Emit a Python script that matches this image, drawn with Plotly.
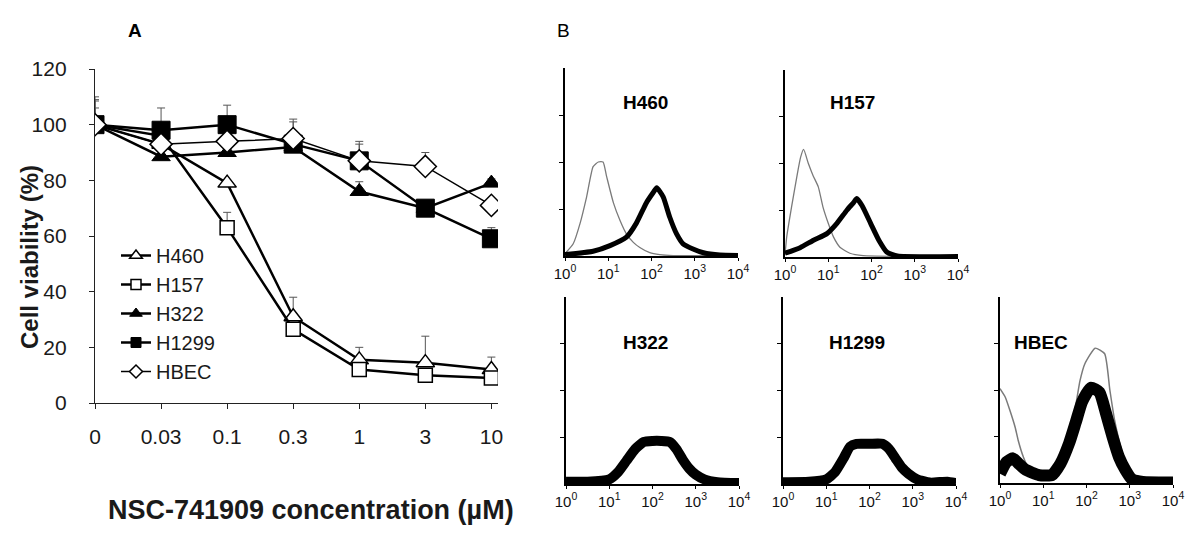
import plotly.graph_objects as go

# ---------------- Panel A data ----------------
conc_labels = ["0", "0.03", "0.1", "0.3", "1", "3", "10"]
h460 = [100, 93, 79, 31, 15.5, 14.5, 12]
h157 = [100, 96, 63, 26.5, 12, 10, 9]
h322 = [100, 88.5, 90, 92, 76, 70, 79]
h1299 = [100, 98, 100, 93, 87, 70, 59]
hbec = [100, 93, 94, 95, 87, 85, 71]

err460 = [10, None, None, 7, 4.5, 9.5, 4.5]
err157 = [8.5, None, 5.5, None, None, None, None]
err322 = [None, None, None, None, 3.5, None, 1.5]
err1299 = [6, 8, 7, 9, 6, None, 4]
errhbec = [9, None, None, 6, 7, 5, None]

y_ticks_a = [0, 20, 40, 60, 80, 100, 120]

# ---------------- Panel B data (log10 intensity, relative count) ----------------
hist_tick_vals = [1, 10, 100, 1000, 10000]
hist_tick_text = ["10<sup>0</sup>", "10<sup>1</sup>", "10<sup>2</sup>", "10<sup>3</sup>", "10<sup>4</sup>"]

h460_gray_logx = [0, 0.19, 0.35, 0.5, 0.65, 0.77, 0.88, 0.96, 1.12, 1.27, 1.42, 1.58, 1.73, 1.96, 2.19, 2.5, 4.0]
h460_gray_y = [0.05, 0.26, 0.7, 1.26, 1.9, 2.0, 2.0, 1.7, 1.13, 0.76, 0.47, 0.29, 0.18, 0.07, 0.03, 0.01, 0.01]
h460_black_logx = [0, 0.65, 1.04, 1.42, 1.65, 1.88, 2.04, 2.12, 2.27, 2.42, 2.58, 2.73, 2.96, 3.2, 3.58, 4.0]
h460_black_y = [0.03, 0.1, 0.22, 0.4, 0.7, 1.13, 1.35, 1.45, 1.26, 0.83, 0.47, 0.26, 0.15, 0.07, 0.02, 0.01]

h157_gray_logx = [0, 0.04, 0.15, 0.27, 0.36, 0.43, 0.54, 0.65, 0.77, 0.88, 1.0, 1.12, 1.27, 1.5, 1.81, 4.0]
h157_gray_y = [0.05, 0.43, 1.06, 1.7, 2.13, 2.3, 2.0, 1.74, 1.5, 1.06, 0.72, 0.43, 0.21, 0.08, 0.03, 0.01]
h157_black_logx = [0, 0.35, 0.66, 0.97, 1.2, 1.43, 1.59, 1.66, 1.78, 1.98, 2.17, 2.36, 2.6, 4.0]
h157_black_y = [0.08, 0.2, 0.36, 0.5, 0.72, 1.0, 1.17, 1.25, 1.1, 0.72, 0.36, 0.1, 0.02, 0.01]

h322_black_logx = [0, 0.5, 1.0, 1.2, 1.4, 1.6, 1.8, 2.0, 2.2, 2.4, 2.55, 2.7, 2.85, 3.0, 3.2, 3.5, 4.0]
h322_black_y = [0.05, 0.05, 0.1, 0.25, 0.5, 0.75, 0.9, 0.92, 0.92, 0.9, 0.75, 0.52, 0.33, 0.2, 0.1, 0.04, 0.02]

h1299_black_logx = [0, 0.6, 1.0, 1.2, 1.4, 1.55, 1.7, 2.0, 2.3, 2.45, 2.6, 2.75, 2.9, 3.1, 3.4, 3.8, 4.0]
h1299_black_y = [0.04, 0.05, 0.1, 0.25, 0.55, 0.8, 0.86, 0.86, 0.86, 0.75, 0.55, 0.35, 0.22, 0.1, 0.03, 0.05, 0.02]

hbec_gray_logx = [0, 0.12, 0.23, 0.35, 0.42, 0.54, 0.65, 0.81, 1.04, 1.27, 1.43, 1.58, 1.73, 1.85, 1.96, 2.2, 2.42, 2.54, 2.65, 2.81, 2.96, 3.12, 3.4, 4.0]
hbec_gray_y = [2.03, 1.85, 1.56, 1.2, 0.92, 0.56, 0.34, 0.2, 0.2, 0.34, 0.64, 1.0, 1.56, 2.2, 2.56, 2.9, 2.78, 2.0, 1.35, 0.7, 0.2, 0.05, 0.01, 0.01]
hbec_black_logx = [0, 0.15, 0.3, 0.45, 0.6, 0.9, 1.2, 1.4, 1.6, 1.75, 1.9, 2.1, 2.3, 2.45, 2.6, 2.75, 2.9, 3.05, 3.3, 4.0]
hbec_black_y = [0.2, 0.45, 0.53, 0.4, 0.28, 0.17, 0.17, 0.42, 0.86, 1.3, 1.75, 2.05, 1.95, 1.5, 1.0, 0.56, 0.28, 0.08, 0.02, 0.01]

FONT = "Liberation Sans, Arial, sans-serif"
W, H = 1200, 553


def px_x(p):
    return p / W


def px_y(p):
    return 1 - p / H


fig = go.Figure()

# ---------------- Panel A traces ----------------
series = [
    ("H460", h460, err460, dict(symbol="triangle-up", size=16, color="white", line=dict(color="black", width=1.5)), 2.5),
    ("H157", h157, err157, dict(symbol="square", size=14, color="white", line=dict(color="black", width=1.5)), 2.5),
    ("H322", h322, err322, dict(symbol="triangle-up", size=16, color="black", line=dict(color="black", width=1)), 2.5),
    ("H1299", h1299, err1299, dict(symbol="square", size=18, color="black", line=dict(color="black", width=1)), 2.5),
    ("HBEC", hbec, errhbec, dict(symbol="diamond", size=17, color="white", line=dict(color="black", width=1.5)), 1.5),
]

for name, vals, errs, mk, lw in series:
    fig.add_trace(go.Scatter(
        x=conc_labels, y=vals, mode="lines+markers", name=name, showlegend=False,
        line=dict(color="black", width=lw), marker=mk,
        error_y=dict(type="data", array=errs, symmetric=False,
                     arrayminus=[0] * len(errs), color="#555", thickness=1, width=4),
        xaxis="x", yaxis="y",
    ))

# legend entries (smaller markers, as in the original legend)
for name, vals, errs, mk, lw in series:
    small = dict(mk)
    small["size"] = 11 if "triangle" in mk["symbol"] else 10
    fig.add_trace(go.Scatter(
        x=[None], y=[None], mode="lines+markers", name=name, showlegend=True,
        line=dict(color="black", width=lw), marker=small, xaxis="x", yaxis="y",
    ))

# ---------------- Panel B traces ----------------
def hist_trace(logx, yv, axis_idx, color, width):
    return go.Scatter(
        x=[10 ** v for v in logx], y=yv, mode="lines", showlegend=False,
        line=dict(color=color, width=width, shape="spline", smoothing=0.5),
        xaxis=f"x{axis_idx}", yaxis=f"y{axis_idx}", hoverinfo="skip",
    )

GRAY = "#7a7a7a"
fig.add_trace(hist_trace(h460_gray_logx, h460_gray_y, 2, GRAY, 1.3))
fig.add_trace(hist_trace(h460_black_logx, h460_black_y, 2, "black", 5))
fig.add_trace(hist_trace(h157_gray_logx, h157_gray_y, 3, GRAY, 1.3))
fig.add_trace(hist_trace(h157_black_logx, h157_black_y, 3, "black", 5))
fig.add_trace(hist_trace(h322_black_logx, h322_black_y, 4, "black", 10))
fig.add_trace(hist_trace(h1299_black_logx, h1299_black_y, 5, "black", 10))
fig.add_trace(hist_trace(hbec_gray_logx, hbec_gray_y, 6, GRAY, 1.5))
fig.add_trace(hist_trace(hbec_black_logx, hbec_black_y, 6, "black", 12))

# ---------------- Layout ----------------
layout = dict(
    template="none",
    width=W, height=H, autosize=False,
    margin=dict(l=0, r=0, t=0, b=0, pad=0, autoexpand=False),
    paper_bgcolor="white", plot_bgcolor="rgba(0,0,0,0)",
    font=dict(family=FONT, color="#1a1a1a"),
    showlegend=True,
    legend=dict(x=px_x(116), y=px_y(236), xanchor="left", yanchor="top",
                font=dict(size=20, family=FONT, color="#1a1a1a"),
                bgcolor="rgba(0,0,0,0)", borderwidth=0, itemwidth=30,
                tracegroupgap=0),
    xaxis=dict(domain=[px_x(95), px_x(498)], type="category",
               categoryorder="array", categoryarray=conc_labels,
               range=[0, 6.1], showgrid=False, zeroline=False, automargin=False,
               showline=True, linecolor="#222", linewidth=1.3,
               ticks="outside", ticklen=5, tickcolor="#222", tickwidth=1.2,
               tickfont=dict(size=21, family=FONT, color="#1a1a1a"),
               ticklabelstandoff=10, anchor="y"),
    yaxis=dict(domain=[px_y(403), px_y(69)], range=[0, 120],
               tickvals=y_ticks_a, showgrid=False, zeroline=False, automargin=False,
               showline=True, linecolor="#222", linewidth=1.3,
               ticks="outside", ticklen=5, tickcolor="#222", tickwidth=1.2,
               tickfont=dict(size=21, family=FONT, color="#1a1a1a"),
               ticklabelstandoff=18, anchor="x"),
)

hist_panels = [
    (2, 565, 738, 256, 68),
    (3, 785, 958, 257, 70),
    (4, 566, 739, 484, 297),
    (5, 783, 956, 484, 297),
    (6, 1000, 1173, 483, 297),
]
for idx, x0, x1, yb, yt in hist_panels:
    layout[f"xaxis{idx}"] = dict(
        domain=[px_x(x0), px_x(x1)], type="log", range=[0, 4],
        tickvals=hist_tick_vals, ticktext=hist_tick_text, automargin=False,
        showgrid=False, zeroline=False, showline=True, linecolor="black",
        linewidth=1.5, ticks="outside", ticklen=3, tickcolor="black",
        tickfont=dict(size=15, family=FONT, color="#111"),
        anchor=f"y{idx}", ticklabelstandoff=0,
    )
    layout[f"yaxis{idx}"] = dict(
        domain=[px_y(yb), px_y(yt)], range=[0, 4], tickvals=[1, 2, 3],
        showticklabels=False, showgrid=False, zeroline=False, showline=True,
        automargin=False,
        linecolor="black", linewidth=1.5, ticks="outside", ticklen=4,
        tickcolor="black", anchor=f"x{idx}",
    )


def ann(text, xx, yy, size, angle=0, color="black"):
    return dict(text=text, x=px_x(xx), y=px_y(yy), xref="paper", yref="paper",
                xanchor="center", yanchor="middle", showarrow=False,
                textangle=angle, font=dict(size=size, family=FONT, color=color))


annotations = [
    ann("<b>A</b>", 135, 31, 19),
    ann("B", 563, 31, 19),
    ann("<b>Cell viability (%)</b>", 29, 257, 24, angle=-90, color="#1a1a1a"),
    ann("<b>NSC-741909 concentration (µM)</b>", 311, 510, 27, color="#1a1a1a"),
]
hist_titles = [("H460", 645, 102), ("H157", 852, 102), ("H322", 645, 342),
               ("H1299", 857, 342), ("HBEC", 1041, 342)]
for t, xx, yy in hist_titles:
    annotations.append(ann(f"<b>{t}</b>", xx, yy, 19))
layout["annotations"] = annotations

fig.update_layout(**layout)
fig.write_html(
    "out.html",
    config={"responsive": False, "displayModeBar": False},
    post_script="document.body.style.margin='0';document.body.style.overflow='hidden';",
)
